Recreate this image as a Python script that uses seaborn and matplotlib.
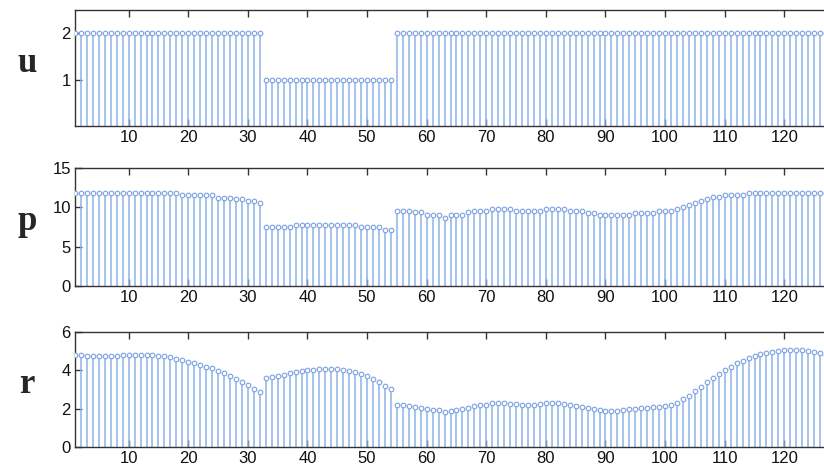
import numpy as np
import matplotlib
matplotlib.use("Agg")
import matplotlib.pyplot as plt
import seaborn as sns

# ---- data ----
u_vals = [2] * 32 + [1] * 22 + [2] * 74

p_vals = (
    [11.8] * 18
    + [11.55] * 6
    + [11.25, 11.25, 11.25, 11.05, 11.05, 10.8, 10.8, 10.55]
    + [7.45] * 5 + [7.75] * 11 + [7.45] * 4 + [7.15, 7.15]
    + [9.5, 9.5, 9.5, 9.35, 9.35, 9.0, 9.0, 9.0, 8.7, 9.0, 9.0, 9.0, 9.35,
       9.5, 9.5, 9.5, 9.8, 9.8, 9.8, 9.8, 9.5, 9.5, 9.5, 9.5, 9.5]
    + [9.75, 9.75, 9.75, 9.75, 9.5, 9.5, 9.5, 9.25, 9.25, 9.0, 9.0, 9.0, 9.0,
       9.0, 9.0, 9.25, 9.25, 9.25, 9.25, 9.5, 9.5, 9.5, 9.75, 10.05, 10.3,
       10.6, 10.8, 11.1, 11.3, 11.3, 11.55, 11.55, 11.55, 11.55]
    + [11.8] * 15
)

r_vals = (
    [4.8, 4.78, 4.77, 4.76, 4.76, 4.76, 4.76, 4.77, 4.78, 4.79, 4.79, 4.79,
     4.79, 4.78, 4.76, 4.73, 4.67, 4.60, 4.53, 4.45, 4.36, 4.27, 4.19, 4.10,
     3.98, 3.86, 3.72, 3.55, 3.40, 3.22, 3.05, 2.85]
    + [3.58, 3.63, 3.68, 3.75, 3.84, 3.91, 3.96, 4.01, 4.03, 4.05, 4.08, 4.08,
       4.06, 4.01, 3.98, 3.91, 3.80, 3.68, 3.56, 3.39, 3.18, 3.01]
    + [2.21, 2.20, 2.16, 2.09, 2.02, 1.97, 1.93, 1.92, 1.83, 1.90, 1.93, 1.98,
       2.05, 2.14, 2.18, 2.20, 2.30, 2.30, 2.28, 2.25, 2.23, 2.21, 2.21, 2.21,
       2.23, 2.27, 2.28, 2.30, 2.25, 2.21, 2.16, 2.11, 2.04, 1.98, 1.93, 1.90,
       1.90, 1.90, 1.93, 1.97, 2.00, 2.02, 2.05, 2.09, 2.11, 2.14, 2.21, 2.32,
       2.49, 2.66, 2.90, 3.15, 3.37, 3.60, 3.80, 4.01, 4.19, 4.36, 4.50, 4.63,
       4.76, 4.86, 4.93, 4.98, 5.03, 5.07, 5.07, 5.07, 5.05, 5.02, 4.96, 4.89,
       4.80, 4.70]
)

panel_names = ["u", "p", "r"]
panel_ylims = [(0, 2.5), (0, 15), (0, 6)]
panel_yticks = [[1, 2], [0, 5, 10, 15], [0, 2, 4, 6]]
x_ticks = list(range(10, 130, 10))

STEM = "#8db3ea"
EDGE = "#7aa0e0"

sns.set_style("white")
plt.rcParams["font.family"] = ["Liberation Sans", "DejaVu Sans"]

fig = plt.figure(figsize=(8.24, 4.68), dpi=100)
W, H = 824.0, 468.0
# (top, bottom) pixel rows of each axes box
boxes = [(10, 126), (168, 286), (332, 447)]
left_px, right_px = 75, 832

for vals, name, ylim, yt, (top, bot) in zip(
        [u_vals, p_vals, r_vals], panel_names, panel_ylims, panel_yticks, boxes):
    ax = fig.add_axes([left_px / W, (H - bot) / H,
                       (right_px - left_px) / W, (bot - top) / H])
    x = np.arange(1, len(vals) + 1)
    ax.vlines(x, 0, vals, color=STEM, linewidth=1.1, zorder=2)
    sns.scatterplot(x=x, y=vals, ax=ax, marker="o", s=11,
                    facecolor="white", edgecolor=EDGE, linewidth=0.8,
                    zorder=3, legend=False)
    ax.set_xlim(1, 128)
    ax.set_ylim(*ylim)
    ax.set_xticks(x_ticks)
    ax.set_yticks(yt)
    ax.tick_params(direction="in", length=5, width=1, colors="#333333",
                   labelcolor="#111111", labelsize=12, top=True, bottom=True,
                   left=True, right=False, pad=3)
    for s in ax.spines.values():
        s.set_color("#333333")
        s.set_linewidth(1.0)
    ax.set_xlabel("")
    ax.set_ylabel("")
    fig.text(27 / W, 1 - ((top + bot) / 2 - 5) / H, name,
             family=["Liberation Serif", "DejaVu Serif"], fontweight="bold",
             fontsize=25, ha="center", va="center")

fig.savefig("out.png", dpi=100)
